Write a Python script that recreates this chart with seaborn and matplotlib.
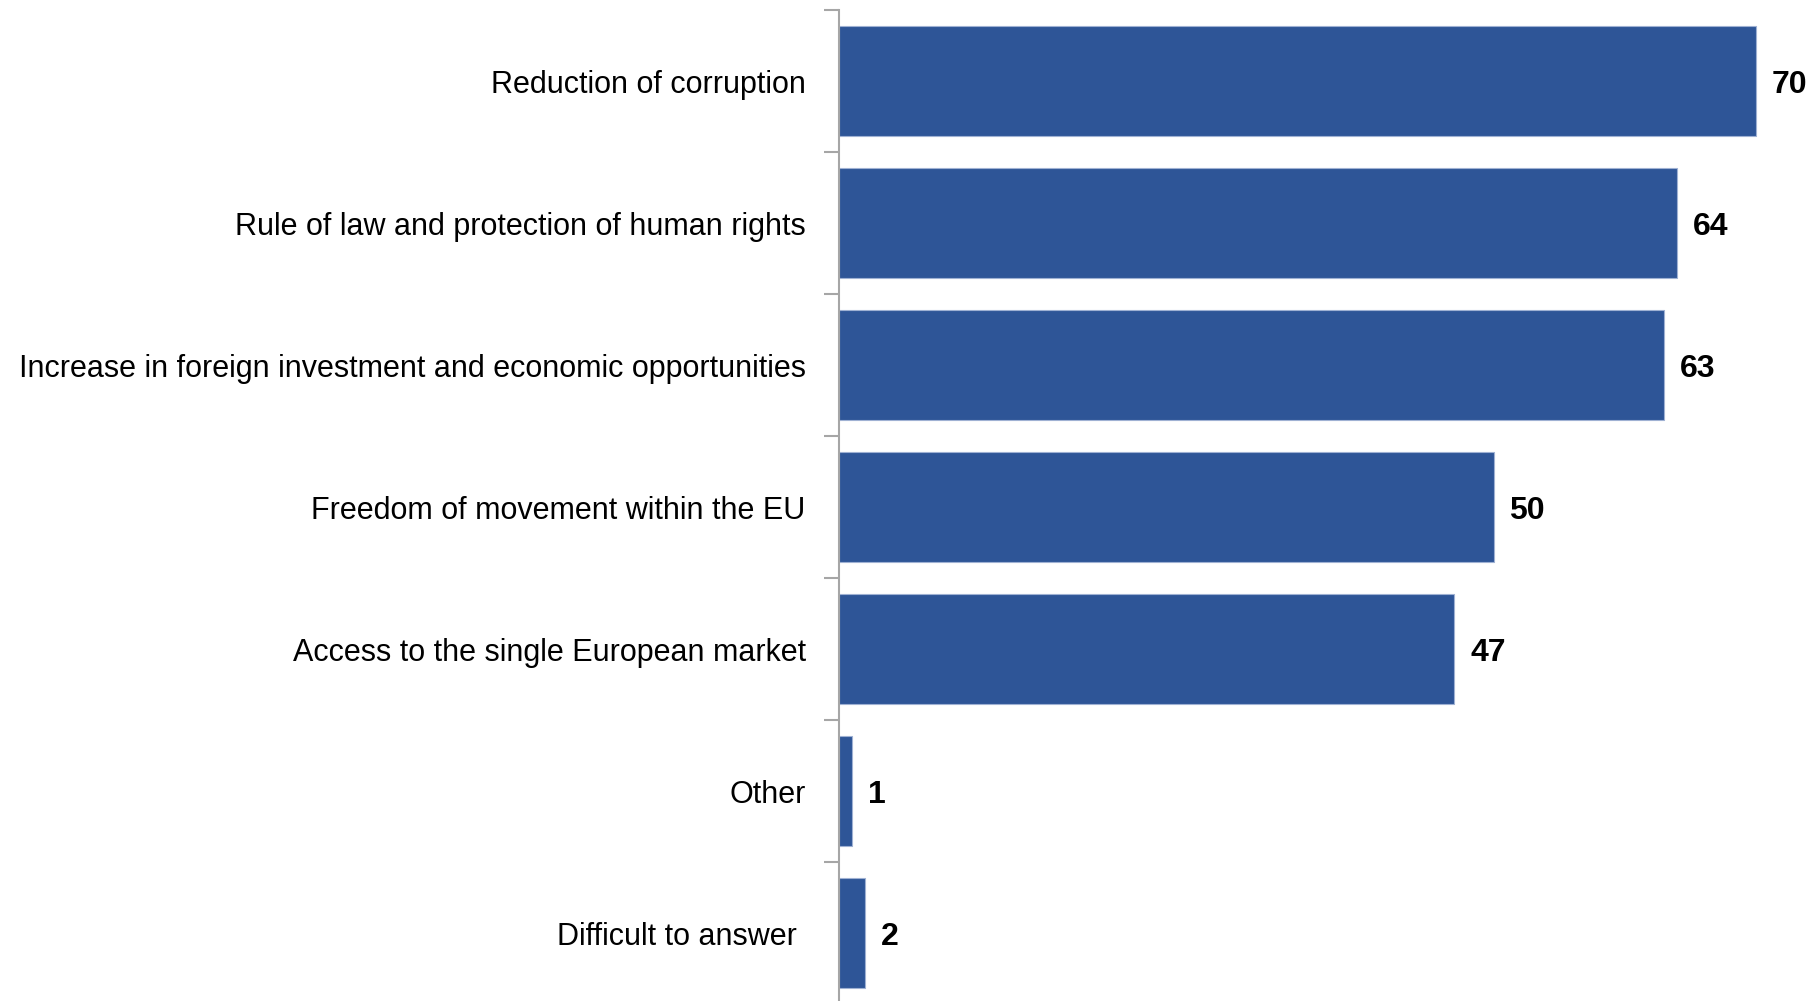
import matplotlib
matplotlib.use("Agg")
import matplotlib.pyplot as plt
import seaborn as sns
import pandas as pd
import numpy as np

categories = [
    "Reduction of corruption",
    "Rule of law and protection of human rights",
    "Increase in foreign investment and economic opportunities",
    "Freedom of movement within the EU",
    "Access to the single European market",
    "Other",
    "Difficult to answer ",
]
values = [70, 64, 63, 50, 47, 1, 2]

df = pd.DataFrame({"category": categories, "value": values})

sns.set_theme(style="white")
plt.rcParams["font.family"] = ["Liberation Sans", "DejaVu Sans"]

fig = plt.figure(figsize=(18.08, 10.01), dpi=100)
ax = fig.add_axes([839 / 1808, -3 / 1001, 1 - 839 / 1808, 994 / 1001])

sns.barplot(data=df, x="value", y="category", orient="h", color="#2E5597",
            saturation=1, width=0.77, edgecolor="#9FB1D3", linewidth=0.8, ax=ax)

ax.set_xlim(0, 74)
ax.set_ylim(len(categories) - 0.5, -0.5)
ax.set_xlabel("")
ax.set_ylabel("")
ax.set_xticks([])

for s in ["top", "right", "bottom"]:
    ax.spines[s].set_visible(False)
ax.spines["left"].set_color("#A6A6A6")
ax.spines["left"].set_linewidth(1.5)

ax.set_yticks(range(len(categories)))
ax.set_yticklabels(categories, fontsize=22, color="black")
ax.tick_params(axis="y", which="major", length=0, pad=24)
ax.set_yticks(np.arange(-0.5, len(categories), 1), minor=True)
ax.tick_params(axis="y", which="minor", length=11, width=1.5, color="#A6A6A6", left=True)

for i, v in enumerate(values):
    ax.text(v + 1.2, i + 0.03, f"{v}", va="center", ha="left", fontsize=23,
            fontweight="bold", color="black", clip_on=False)

fig.savefig("out.png", dpi=100, facecolor="white")
